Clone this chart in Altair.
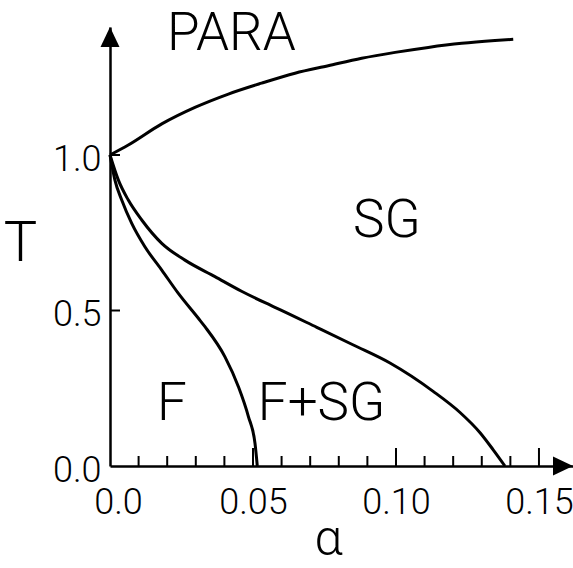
import altair as alt
import pandas as pd

# Phase boundaries of the Hopfield model: storage ratio alpha vs temperature T
para_sg_alpha = [0.0, 0.0064, 0.0181, 0.0297, 0.0414, 0.0530, 0.0647, 0.0763,
                 0.0880, 0.0997, 0.1113, 0.1230, 0.1346, 0.1410]
para_sg_T = [1.0, 1.032, 1.100, 1.153, 1.196, 1.231, 1.263, 1.287,
             1.311, 1.330, 1.346, 1.359, 1.368, 1.372]

sg_fsg_alpha = [0.0, 0.0029, 0.0064, 0.0111, 0.0181, 0.0262, 0.0367, 0.0460,
                0.0542, 0.0594, 0.0723, 0.0851, 0.0979, 0.1130, 0.1224,
                0.1294, 0.1340, 0.1381]
sg_fsg_T = [1.0, 0.920, 0.855, 0.791, 0.716, 0.662, 0.609, 0.562,
            0.525, 0.503, 0.446, 0.389, 0.331, 0.240, 0.172,
            0.107, 0.052, 0.0]

f_alpha = [0.0, 0.0017, 0.0041, 0.0076, 0.0122, 0.0181, 0.0239, 0.0309,
           0.0332, 0.0402, 0.0449, 0.0484, 0.0507, 0.0515]
f_T = [1.0, 0.920, 0.855, 0.780, 0.705, 0.630, 0.555, 0.475,
       0.448, 0.351, 0.255, 0.159, 0.073, 0.0]

# Region names and where they sit in the (alpha, T) plane
region_names = ["PARA", "SG", "F", "F+SG"]
region_alpha = [0.0199, 0.085, 0.0164, 0.0517]
region_T = [1.338, 0.736, 0.148, 0.148]

# Axis ticks and labels
x_label_values = [0.0, 0.05, 0.10, 0.15]
x_label_text = ["0.0", "0.05", "0.10", "0.15"]
x_minor_ticks = [0.01, 0.02, 0.03, 0.04, 0.06, 0.07, 0.08, 0.09,
                 0.11, 0.12, 0.13, 0.14]
x_major_ticks = [0.05, 0.10, 0.15]
y_label_values = [0.0, 0.5, 1.0]
y_label_text = ["0.0", "0.5", "1.0"]
y_ticks = [0.5, 1.0]

FONT = "Roboto"
WEIGHT = 300
W, H = 463, 439

curves = pd.concat([
    pd.DataFrame({"alpha": para_sg_alpha, "T": para_sg_T, "curve": "para_sg"}),
    pd.DataFrame({"alpha": sg_fsg_alpha, "T": sg_fsg_T, "curve": "sg_fsg"}),
    pd.DataFrame({"alpha": f_alpha, "T": f_T, "curve": "f"}),
], ignore_index=True)
curves["i"] = range(len(curves))

xs = alt.Scale(domain=[0, 0.1619], nice=False, zero=False)
ys = alt.Scale(domain=[0, 1.4116], nice=False, zero=False)


def label_expr(values, texts):
    vals = ",".join(repr(v) for v in values)
    txts = ",".join("'" + t + "'" for t in texts)
    return f"[{txts}][indexof([{vals}], datum.value)]"


x_axis = alt.Axis(
    values=x_label_values, labelExpr=label_expr(x_label_values, x_label_text),
    ticks=False, tickSize=0, grid=False,
    domainColor="black", domainWidth=2.5,
    labelFont=FONT, labelFontSize=36, labelFontWeight=WEIGHT, labelColor="black",
    labelPadding=19, labelBaseline="top", labelAlign="center",
    labelFlush=False, labelOverlap=False,
    labelOffset=alt.condition("datum.value == 0", alt.value(8), alt.value(0)),
    title="α", titleFont=FONT, titleFontSize=50, titleFontWeight=WEIGHT,
    titleColor="black", titleX=218, titleY=88, titleAlign="center",
    titleBaseline="alphabetic",
)
y_axis = alt.Axis(
    values=y_label_values, labelExpr=label_expr(y_label_values, y_label_text),
    ticks=False, tickSize=0, grid=False,
    domainColor="black", domainWidth=2.5,
    labelFont=FONT, labelFontSize=36, labelFontWeight=WEIGHT, labelColor="black",
    labelPadding=9, labelBaseline="middle", labelOffset=4,
    labelFlush=False, labelOverlap=False,
    title="T", titleFont=FONT, titleFontSize=56, titleFontWeight=WEIGHT,
    titleColor="black", titleAngle=0, titleX=-90, titleY=233,
    titleAlign="center", titleBaseline="alphabetic",
)

lines = alt.Chart(curves).mark_line(
    color="black", strokeWidth=3, interpolate="monotone"
).encode(
    x=alt.X("alpha:Q", scale=xs, axis=x_axis),
    y=alt.Y("T:Q", scale=ys, axis=y_axis),
    detail="curve:N",
    order="i:Q",
)

minor = alt.Chart(pd.DataFrame({"a": x_minor_ticks})).mark_rule(
    color="black", strokeWidth=2
).encode(x=alt.X("a:Q", scale=xs), y=alt.value(H), y2=alt.value(H - 10))

major = alt.Chart(pd.DataFrame({"a": x_major_ticks})).mark_rule(
    color="black", strokeWidth=2
).encode(x=alt.X("a:Q", scale=xs), y=alt.value(H), y2=alt.value(H - 18))

yt = alt.Chart(pd.DataFrame({"t": y_ticks})).mark_rule(
    color="black", strokeWidth=2
).encode(y=alt.Y("t:Q", scale=ys), x=alt.value(0), x2=alt.value(10))

one = pd.DataFrame({"k": [0]})
arrow_up = alt.Chart(one).mark_point(
    shape="M0,0L0.95,2L-0.95,2Z", size=400, filled=True,
    color="black", opacity=1, strokeWidth=0
).encode(x=alt.value(0), y=alt.value(0))
arrow_right = alt.Chart(one).mark_point(
    shape="M0,0L-2,-0.95L-2,0.95Z", size=400, filled=True,
    color="black", opacity=1, strokeWidth=0
).encode(x=alt.value(W), y=alt.value(H))

regions = alt.Chart(pd.DataFrame({
    "name": region_names, "alpha": region_alpha, "T": region_T
})).mark_text(
    align="left", baseline="alphabetic", font=FONT, fontSize=53,
    fontWeight=WEIGHT, color="black"
).encode(
    x=alt.X("alpha:Q", scale=xs), y=alt.Y("T:Q", scale=ys), text="name:N"
)

chart = alt.layer(lines, minor, major, yt, arrow_up, arrow_right, regions).properties(
    width=W, height=H,
    autosize=alt.AutoSizeParams(type="none"),
    padding={"left": 110, "top": 27, "right": 0, "bottom": 102},
    background="white",
).configure_view(stroke=None)

chart.save("out.html", embed_options={"renderer": "svg", "actions": False})
